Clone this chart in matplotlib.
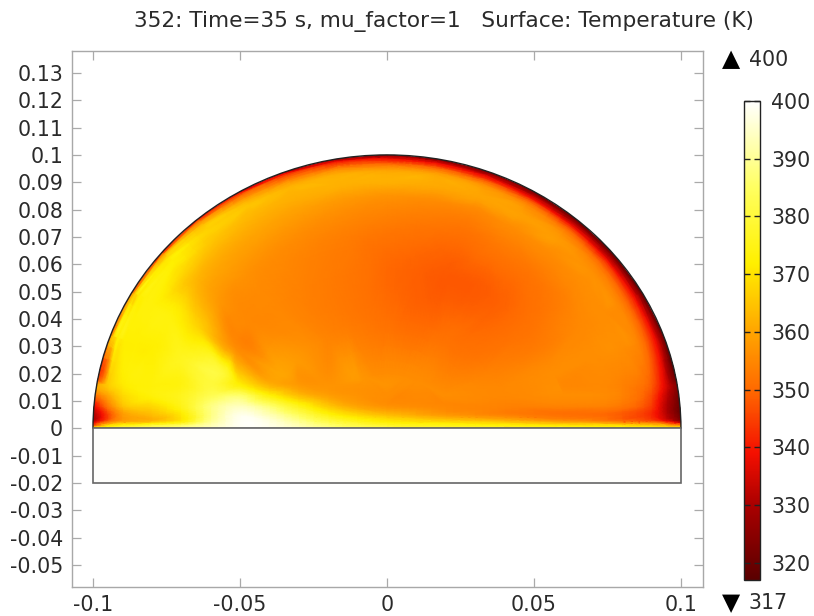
import numpy as np
import matplotlib
matplotlib.use('Agg')
from matplotlib import pyplot as plt
from matplotlib import tri
from matplotlib.colors import LinearSegmentedColormap, Normalize
from matplotlib.patches import Wedge, Rectangle

plt.rcParams['font.family'] = ['DejaVu Sans']
plt.rcParams['axes.unicode_minus'] = False

W, H = 814, 616
R = 0.1
T_MIN, T_MAX = 317, 400

title = '352: Time=35 s, mu_factor=1   Surface: Temperature (K)'
x_ticks = [-0.1, -0.05, 0, 0.05, 0.1]
x_labels = ['-0.1', '-0.05', '0', '0.05', '0.1']
y_ticks = [-0.05, -0.04, -0.03, -0.02, -0.01, 0, 0.01, 0.02, 0.03, 0.04, 0.05,
           0.06, 0.07, 0.08, 0.09, 0.1, 0.11, 0.12, 0.13]
y_labels = ['-0.05', '-0.04', '-0.03', '-0.02', '-0.01', '0', '0.01', '0.02', '0.03', '0.04', '0.05',
            '0.06', '0.07', '0.08', '0.09', '0.1', '0.11', '0.12', '0.13']
cbar_ticks = [320, 330, 340, 350, 360, 370, 380, 390, 400]

# colour scale
scale_T = [317, 330, 339, 350, 360, 372, 385, 400]
scale_c = ['#5a0000', '#aa0000', '#f50f00', '#ff6a00', '#ffa500', '#fff000', '#ffff60', '#ffffff']

# temperature read on rings (r/R) along rays (degrees from +x)
ring_r = [0.2, 0.4, 0.6, 0.75, 0.85, 0.91, 0.95, 0.975, 0.99, 1.0]
ray_deg = [10, 20, 30, 40, 50, 60, 70, 80, 90, 100, 110, 120, 130, 140, 150, 160, 170]
ring_T = [
    [372, 362, 356, 355, 353, 350, 344, 336, 328, 321],
    [372, 357, 356, 356, 356, 354, 345, 335, 326, 319],
    [365, 354, 353, 355, 356, 355, 346, 335, 325, 318],
    [362, 352, 351, 353, 356, 356, 348, 335, 325, 318],
    [357, 351, 349, 352, 356, 358, 351, 337, 326, 319],
    [356, 351, 348, 352, 356, 359, 354, 340, 328, 320],
    [356, 350, 348, 351, 355, 360, 356, 342, 331, 321],
    [356, 350, 349, 352, 356, 361, 358, 344, 333, 322],
    [356, 351, 350, 353, 357, 362, 358, 345, 335, 324],
    [356, 352, 352, 354, 358, 362, 360, 348, 338, 327],
    [357, 353, 353, 355, 359, 362, 361, 351, 342, 330],
    [358, 354, 354, 356, 360, 363, 364, 356, 346, 333],
    [360, 356, 355, 357, 361, 365, 367, 363, 352, 336],
    [362, 358, 355, 358, 363, 369, 372, 369, 358, 338],
    [368, 360, 356, 368, 373, 373, 373, 371, 364, 345],
    [380, 380, 380, 376, 372, 372, 372, 372, 366, 350],
    [390, 385, 375, 370, 368, 372, 372, 370, 365, 350],
]

# temperature read in the thin layer above the base
layer_y = [0, 0.001, 0.0025, 0.005, 0.008, 0.012, 0.016]
layer_x = [-0.1, -0.095, -0.09, -0.08, -0.07, -0.06, -0.05, -0.04, -0.03, -0.02,
           -0.01, 0, 0.02, 0.04, 0.06, 0.08, 0.09, 0.095, 0.1]
layer_T = [
    [378, 378, 380, 384, 388, 394, 399, 398, 394, 388, 384, 382, 378, 376, 375, 373, 372, 372, 370],
    [350, 370, 376, 381, 385, 393, 399, 398, 393, 387, 382, 378, 376, 374, 372, 370, 368, 365, 360],
    [332, 350, 360, 364, 372, 390, 399, 397, 390, 382, 376, 372, 368, 364, 358, 352, 348, 340, 328],
    [330, 345, 358, 364, 371, 388, 398, 393, 384, 374, 368, 364, 358, 354, 351, 348, 342, 332, 320],
    [336, 352, 364, 368, 375, 388, 394, 387, 376, 366, 360, 357, 355, 354, 354, 352, 344, 331, 319],
    [350, 360, 368, 373, 376, 383, 386, 373, 364, 359, 357, 356, 356, 355, 356, 354, 346, 333, 319],
    [360, 366, 371, 373, 374, 380, 372, 362, 358, 357, 357, 357, 355, 355, 355, 354, 348, 335, 320],
]

scale_pos = [(t - T_MIN) / (T_MAX - T_MIN) for t in scale_T]
cmap = LinearSegmentedColormap.from_list('heat_light', list(zip(scale_pos, scale_c)), N=512)
norm = Normalize(T_MIN, T_MAX)


def px_axes(left, top, right, bottom):
    return [left / W, 1 - bottom / H, (right - left) / W, (bottom - top) / H]


fig = plt.figure(figsize=(W / 100, H / 100), dpi=100)
ax = fig.add_axes(px_axes(71.5, 51, 703, 587))
ax.set_xlim(-0.1073, 0.1075)
ax.set_ylim(-0.058, 0.138)

# sample points of the field: rings first, then the base layer
rr, aa = np.meshgrid(np.array(ring_r) * R, np.radians(ray_deg))
px = (rr * np.cos(aa)).ravel()
py = (rr * np.sin(aa)).ravel()
pt = np.array(ring_T, dtype=float).ravel()
keep = py > 0.0172
lx, ly = np.meshgrid(layer_x, layer_y)
all_x = np.concatenate([px[keep], lx.ravel()])
all_y = np.concatenate([py[keep], ly.ravel()])
all_t = np.concatenate([pt[keep], np.array(layer_T, dtype=float).ravel()])

mesh = tri.Triangulation(all_x, all_y)
fine_mesh, fine_t = tri.UniformTriRefiner(mesh).refine_field(
    all_t, tri.CubicTriInterpolator(mesh, all_t, kind='geom'), subdiv=3)
field = ax.tripcolor(fine_mesh, np.clip(fine_t, T_MIN, T_MAX), shading='gouraud', cmap=cmap, norm=norm, zorder=1)
dome = Wedge((0, 0), R, 0, 180, facecolor='none', edgecolor='#222222', linewidth=1.0, zorder=3)
ax.add_patch(dome)
field.set_clip_path(dome)

ax.add_patch(Rectangle((-R, -0.02), 2 * R, 0.02, facecolor='#fefefc', edgecolor='#666666', linewidth=1.2, zorder=3))

ax.set_xticks(x_ticks, x_labels)
ax.set_yticks(y_ticks, y_labels)
ax.tick_params(axis='both', direction='in', length=6.5, width=0.9, color='#aaaaaa', labelsize=14.8,
               labelcolor='#2a2a2a', top=True, right=True, pad=6)
for sp in ax.spines.values():
    sp.set_color('#a8a8a8')
    sp.set_linewidth(1.0)

fig.text(443.5 / W, 1 - 21 / H, title, ha='center', va='center', fontsize=15.6, color='#2a2a2a')

cax = fig.add_axes(px_axes(743.5, 101, 760, 580))
bar = fig.colorbar(field, cax=cax)
bar.set_ticks(cbar_ticks)
cax.tick_params(axis='y', which='major', direction='in', length=4, width=1.0, color='#222222', labelsize=14.8,
                labelcolor='#2a2a2a', left=True, right=True, pad=8)
cax.minorticks_off()
bar.outline.set_edgecolor('#222222')
bar.outline.set_linewidth(1.0)

# max and min markers next to the bar
fig.text(731.5 / W, 1 - 59 / H, '▲', ha='center', va='center', fontsize=17, color='black')
fig.text(749 / W, 1 - 60 / H, str(T_MAX), ha='left', va='center', fontsize=14.8, color='#2a2a2a')
fig.text(731.5 / W, 1 - 603 / H, '▼', ha='center', va='center', fontsize=17, color='black')
fig.text(749 / W, 1 - 603 / H, str(T_MIN), ha='left', va='center', fontsize=14.8, color='#2a2a2a')

fig.savefig('out.png', dpi=100)
